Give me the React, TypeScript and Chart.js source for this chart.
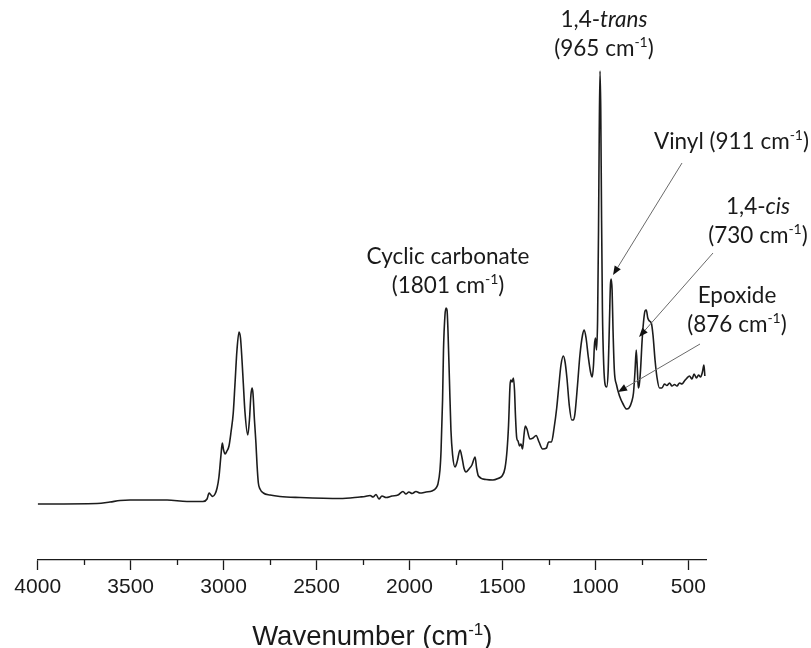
import { useEffect, useRef } from "react";
import { Chart, registerables } from "chart.js";

Chart.register(...registerables);

// Wavenumber (cm-1), high to low
const wavenumber = [
  4000, 3681, 3611, 3557, 3503, 3304, 3197, 3111, 3089, 3078,
  3068, 3059, 3046, 3035, 3025, 3014, 3007, 3000, 2992, 2982,
  2971, 2960, 2948, 2939, 2928, 2917, 2909, 2901, 2894, 2885,
  2870, 2861, 2853, 2847, 2842, 2834, 2826, 2820, 2813, 2804,
  2786, 2750, 2697, 2589, 2374, 2266, 2239, 2212, 2196, 2180,
  2164, 2148, 2126, 2094, 2062, 2035, 2019, 2003, 1986, 1965,
  1943, 1911, 1879, 1857, 1847, 1836, 1830, 1822, 1817, 1809,
  1803, 1798, 1793, 1785, 1777, 1768, 1755, 1744, 1728, 1717,
  1707, 1696, 1680, 1664, 1647, 1639, 1629, 1588, 1551, 1524,
  1502, 1486, 1475, 1467, 1459, 1454, 1448, 1441, 1435, 1430,
  1423, 1416, 1408, 1400, 1392, 1384, 1377, 1368, 1352, 1335,
  1319, 1303, 1284, 1263, 1252, 1236, 1222, 1208, 1196, 1185,
  1172, 1163, 1153, 1140, 1127, 1118, 1110, 1096, 1083, 1069,
  1060, 1050, 1038, 1026, 1017, 1010, 1005, 999, 994, 988,
  983, 979, 975, 971, 967, 962, 955, 947, 939, 931,
  924, 919, 915, 910, 905, 898, 886, 870, 851, 832,
  819, 805, 795, 787, 780, 774, 769, 764, 757, 749,
  741, 733, 726, 718, 709, 699, 690, 679, 668, 655,
  642, 628, 615, 601, 588, 574, 561, 547, 534, 521,
  507, 494, 480, 469, 456, 445, 434, 424, 416, 411,
];

// Absorbance (arbitrary units)
const absorbance = [
  0.112, 0.113, 0.116, 0.119, 0.120, 0.120, 0.117, 0.117, 0.122, 0.134,
  0.130, 0.127, 0.132, 0.144, 0.166, 0.210, 0.234, 0.220, 0.212, 0.218,
  0.228, 0.256, 0.294, 0.350, 0.420, 0.456, 0.444, 0.400, 0.354, 0.296,
  0.250, 0.280, 0.330, 0.344, 0.334, 0.280, 0.234, 0.190, 0.154, 0.142,
  0.134, 0.130, 0.127, 0.125, 0.123, 0.126, 0.127, 0.129, 0.126, 0.131,
  0.122, 0.128, 0.125, 0.128, 0.130, 0.137, 0.132, 0.136, 0.133, 0.137,
  0.134, 0.136, 0.138, 0.144, 0.152, 0.180, 0.220, 0.320, 0.420, 0.490,
  0.504, 0.500, 0.460, 0.360, 0.260, 0.210, 0.186, 0.196, 0.220, 0.204,
  0.184, 0.176, 0.182, 0.190, 0.206, 0.184, 0.168, 0.161, 0.160, 0.163,
  0.168, 0.184, 0.220, 0.270, 0.350, 0.360, 0.356, 0.364, 0.340, 0.290,
  0.244, 0.238, 0.228, 0.232, 0.222, 0.250, 0.268, 0.262, 0.242, 0.244,
  0.249, 0.236, 0.222, 0.224, 0.236, 0.236, 0.264, 0.304, 0.350, 0.390,
  0.408, 0.396, 0.364, 0.308, 0.280, 0.280, 0.292, 0.350, 0.410, 0.450,
  0.460, 0.444, 0.406, 0.376, 0.366, 0.390, 0.430, 0.444, 0.420, 0.480,
  0.660, 0.860, 0.978, 0.900, 0.700, 0.500, 0.390, 0.350, 0.346, 0.380,
  0.480, 0.550, 0.562, 0.540, 0.460, 0.380, 0.350, 0.328, 0.312, 0.302,
  0.304, 0.316, 0.334, 0.376, 0.420, 0.380, 0.344, 0.350, 0.380, 0.436,
  0.476, 0.498, 0.500, 0.484, 0.478, 0.474, 0.450, 0.400, 0.364, 0.344,
  0.344, 0.352, 0.349, 0.354, 0.348, 0.351, 0.348, 0.354, 0.352, 0.358,
  0.364, 0.368, 0.362, 0.372, 0.364, 0.370, 0.366, 0.376, 0.390, 0.368,
];

const majorTicks = [4000, 3500, 3000, 2500, 2000, 1500, 1000, 500];
const minorTicks = [3750, 3250, 2750, 2250, 1750, 1250, 750];
const xRange = [400, 4000];

type Part = { t: string; i?: boolean; sup?: boolean };

const xTitle: Part[] = [{ t: "Wavenumber (cm" }, { t: "-1", sup: true }, { t: ")" }];

// Peak labels: text lines, and the point (wavenumber, absorbance) an arrow points at
const carbonateLabel: Part[][] = [
  [{ t: "Cyclic carbonate" }],
  [{ t: "(1801 cm" }, { t: "-1", sup: true }, { t: ")" }],
];
const transLabel: Part[][] = [
  [{ t: "1,4-" }, { t: "trans", i: true }],
  [{ t: "(965 cm" }, { t: "-1", sup: true }, { t: ")" }],
];
const vinylLabel: Part[][] = [[{ t: "Vinyl (911 cm" }, { t: "-1", sup: true }, { t: ")" }]];
const cisLabel: Part[][] = [
  [{ t: "1,4-" }, { t: "cis", i: true }],
  [{ t: "(730 cm" }, { t: "-1", sup: true }, { t: ")" }],
];
const epoxideLabel: Part[][] = [
  [{ t: "Epoxide" }],
  [{ t: "(876 cm" }, { t: "-1", sup: true }, { t: ")" }],
];
const vinylTip = [905, 0.57];
const cisTip = [765, 0.446];
const epoxideTip = [878, 0.336];

const LABEL_FONT = "Lato, 'Open Sans', sans-serif";
const AXIS_FONT = "'Liberation Sans', Arial, sans-serif";

function drawRich(
  ctx: CanvasRenderingContext2D,
  parts: Part[],
  x: number,
  y: number,
  align: "left" | "center" | "right",
  size: number,
  family: string
) {
  const fontFor = (p: Part) =>
    `${p.i ? "italic " : ""}${p.sup ? Math.round(size * 0.62) : size}px ${family}`;
  let total = 0;
  const widths = parts.map((p) => {
    ctx.font = fontFor(p);
    const w = ctx.measureText(p.t).width;
    total += w;
    return w;
  });
  let cx = align === "center" ? x - total / 2 : align === "right" ? x - total : x;
  ctx.textAlign = "left";
  ctx.textBaseline = "alphabetic";
  parts.forEach((p, i) => {
    ctx.font = fontFor(p);
    ctx.fillText(p.t, cx, p.sup ? y - size * 0.38 : y);
    cx += widths[i];
  });
}

function drawArrow(ctx: CanvasRenderingContext2D, x0: number, y0: number, x1: number, y1: number) {
  const ang = Math.atan2(y1 - y0, x1 - x0);
  const len = 9;
  const hw = 3.6;
  const bx = x1 - len * Math.cos(ang);
  const by = y1 - len * Math.sin(ang);
  ctx.strokeStyle = "#6a6a6a";
  ctx.lineWidth = 1;
  ctx.beginPath();
  ctx.moveTo(x0, y0);
  ctx.lineTo(bx, by);
  ctx.stroke();
  ctx.fillStyle = "#111";
  ctx.beginPath();
  ctx.moveTo(x1, y1);
  ctx.lineTo(bx + hw * Math.sin(ang), by - hw * Math.cos(ang));
  ctx.lineTo(bx - hw * Math.sin(ang), by + hw * Math.cos(ang));
  ctx.closePath();
  ctx.fill();
}

const decorPlugin = {
  id: "decor",
  afterDraw(chart: any) {
    const ctx: CanvasRenderingContext2D = chart.ctx;
    const xs = chart.scales.x;
    const ys = chart.scales.y;
    const area = chart.chartArea;
    ctx.save();
    // minor ticks
    ctx.strokeStyle = "#1a1a1a";
    ctx.lineWidth = 1.3;
    minorTicks.forEach((v) => {
      const px = Math.round(xs.getPixelForValue(v)) + 0.5;
      ctx.beginPath();
      ctx.moveTo(px, area.bottom);
      ctx.lineTo(px, area.bottom + 5);
      ctx.stroke();
    });
    // axis title
    ctx.fillStyle = "#1a1a1a";
    drawRich(ctx, xTitle, (area.left + area.right) / 2, 645, "center", 27.5, AXIS_FONT);

    // peak labels
    ctx.fillStyle = "#1a1a1a";
    const size = 22.5;
    const block = (lines: Part[][], x: number, ys0: number[], align: "left" | "center" | "right") =>
      lines.forEach((ln, i) => drawRich(ctx, ln, x, ys0[i], align, size, LABEL_FONT));
    block(carbonateLabel, 448, [264, 293], "center");
    block(transLabel, 604, [27, 56], "center");
    block(vinylLabel, 809, [149], "right");
    block(cisLabel, 758, [214, 243], "center");
    block(epoxideLabel, 737, [303, 332], "center");

    // arrows
    const tip = (p: number[]) => [xs.getPixelForValue(p[0]), ys.getPixelForValue(p[1])];
    const v = tip(vinylTip);
    drawArrow(ctx, 682, 163, v[0], v[1]);
    const c = tip(cisTip);
    drawArrow(ctx, 713, 253, c[0], c[1]);
    const e = tip(epoxideTip);
    drawArrow(ctx, 700, 344, e[0], e[1]);
    ctx.restore();
  },
};

export default function App() {
  const ref = useRef<HTMLCanvasElement | null>(null);
  useEffect(() => {
    if (!ref.current) return;
    const chart = new Chart(ref.current, {
      type: "line",
      data: {
        datasets: [
          {
            data: wavenumber.map((w, i) => ({ x: w, y: absorbance[i] })),
            borderColor: "#1c1c1c",
            borderWidth: 1.6,
            pointRadius: 0,
            cubicInterpolationMode: "monotone",
            fill: false,
          },
        ],
      },
      options: {
        animation: false,
        responsive: true,
        maintainAspectRatio: false,
        layout: { padding: { left: 37.7, right: 104.1, top: 60, bottom: 0 } },
        plugins: { legend: { display: false }, tooltip: { enabled: false }, title: { display: false } },
        scales: {
          x: {
            type: "linear",
            reverse: true,
            min: xRange[0],
            max: xRange[1],
            afterBuildTicks: (s: any) => {
              s.ticks = majorTicks.map((v) => ({ value: v }));
            },
            afterFit: (s: any) => {
              s.height = 88;
            },
            ticks: {
              autoSkip: false,
              maxRotation: 0,
              padding: 5,
              color: "#1a1a1a",
              font: { family: AXIS_FONT, size: 21 },
              callback: (v: any) => String(v),
            },
            grid: {
              drawOnChartArea: false,
              drawTicks: true,
              tickLength: 10,
              tickWidth: 1.3,
              tickColor: "#1a1a1a",
            },
            border: { display: true, color: "#1a1a1a", width: 1.3 },
          },
          y: { display: false, min: 0, max: 1 },
        },
      },
      plugins: [decorPlugin],
    } as any);
    return () => chart.destroy();
  }, []);
  return (
    <div style={{ position: "fixed", left: 0, top: 0, width: 811, height: 648 }}>
      <canvas ref={ref} />
    </div>
  );
}
